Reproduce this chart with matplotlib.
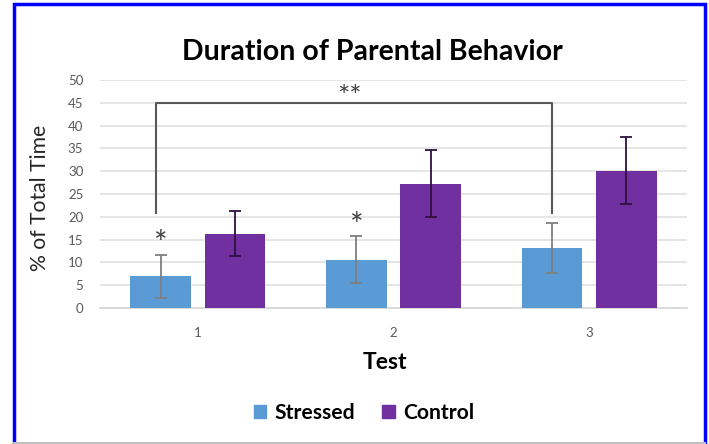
import matplotlib
matplotlib.use("Agg")
import matplotlib.pyplot as plt
import numpy as np
from matplotlib.patches import Rectangle, Patch

plt.rcParams['font.family'] = ['Lato', 'DejaVu Sans']

categories = ["1", "2", "3"]
stressed = [6.95, 10.6, 13.15]
stressed_err = [4.65, 5.1, 5.55]
control = [16.3, 27.3, 30.05]
control_err = [4.95, 7.3, 7.35]
yticks = [0, 5, 10, 15, 20, 25, 30, 35, 40, 45, 50]

W, H = 709, 444
fig = plt.figure(figsize=(W / 100, H / 100), dpi=100)
ax = fig.add_axes([100 / W, 1 - 308 / H, 587 / W, 228 / H])

x = np.arange(len(categories))
off = 0.19
bw = 0.31
ax.bar(x - off, stressed, bw, color="#5b9bd5", zorder=3)
ax.bar(x + off, control, bw, color="#7030a0", zorder=3)
ax.errorbar(x - off, stressed, yerr=stressed_err, fmt="none", ecolor="#7f7f7f",
            elinewidth=1.3, capsize=4, capthick=1.3, zorder=4)
ax.errorbar(x + off, control, yerr=control_err, fmt="none", ecolor="#2e1040",
            elinewidth=1.3, capsize=4, capthick=1.3, zorder=4)

ax.set_xlim(-0.5, 2.5)
ax.set_ylim(0, 50)
ax.set_yticks(yticks)
ax.set_xticks(x)
ax.set_xticklabels(categories)
ax.tick_params(axis="both", length=0, labelsize=9.5, labelcolor="#595959")
ax.tick_params(axis="x", pad=14)
ax.tick_params(axis="y", pad=12)
ax.grid(axis="y", color="#e3e3e3", linewidth=1.3, zorder=0)
for s in ["top", "right", "left"]:
    ax.spines[s].set_visible(False)
ax.spines["bottom"].set_color("#d9d9d9")
ax.spines["bottom"].set_linewidth(1.3)

# significance bracket
bx0, bx1 = -0.215, 1.81
ax.plot([bx0, bx0, bx1, bx1], [20.8, 45, 45, 20.8], color="#595959", lw=1.5,
        zorder=5, clip_on=False)
ax.text(0.775, 46.0, "**", ha="center", va="center", fontsize=21, color="#404040")
ax.text(x[0] - off, 13.8, "*", ha="center", va="center", fontsize=23, color="#404040")
ax.text(x[1] - off, 17.8, "*", ha="center", va="center", fontsize=23, color="#404040")

fig.text(372 / W, 1 - 52 / H, "Duration of Parental Behavior", ha="center",
         va="center", fontsize=20.5, fontweight="bold", color="black")
fig.text(40 / W, 1 - 198 / H, "% of Total Time", ha="center", va="center",
         rotation=90, fontsize=15.2, color="#262626")
fig.text(385 / W, 1 - 362 / H, "Test", ha="center", va="center", fontsize=16.5,
         fontweight="bold", color="black")

handles = [Patch(color="#5b9bd5", label="Stressed"), Patch(color="#7030a0", label="Control")]
leg = fig.legend(handles=handles, loc="center", bbox_to_anchor=(364 / W, 1 - 413 / H),
                 ncol=2, frameon=False, prop={"size": 15.2, "weight": "bold"},
                 handlelength=0.6, handleheight=0.6, handletextpad=0.4,
                 columnspacing=1.25)

# outer frame
fig.patches.append(Rectangle((13.5 / W, -0.05), (705 - 13.5) / W, 1.05 - 4.5 / H,
                             transform=fig.transFigure, fill=False, edgecolor="#0000ff",
                             linewidth=2.5))
fig.lines.append(plt.Line2D([13 / W, 705 / W], [1 / H, 1 / H], transform=fig.transFigure,
                            color="#bfbfbf", lw=1.5))

fig.savefig("out.png", dpi=100)
